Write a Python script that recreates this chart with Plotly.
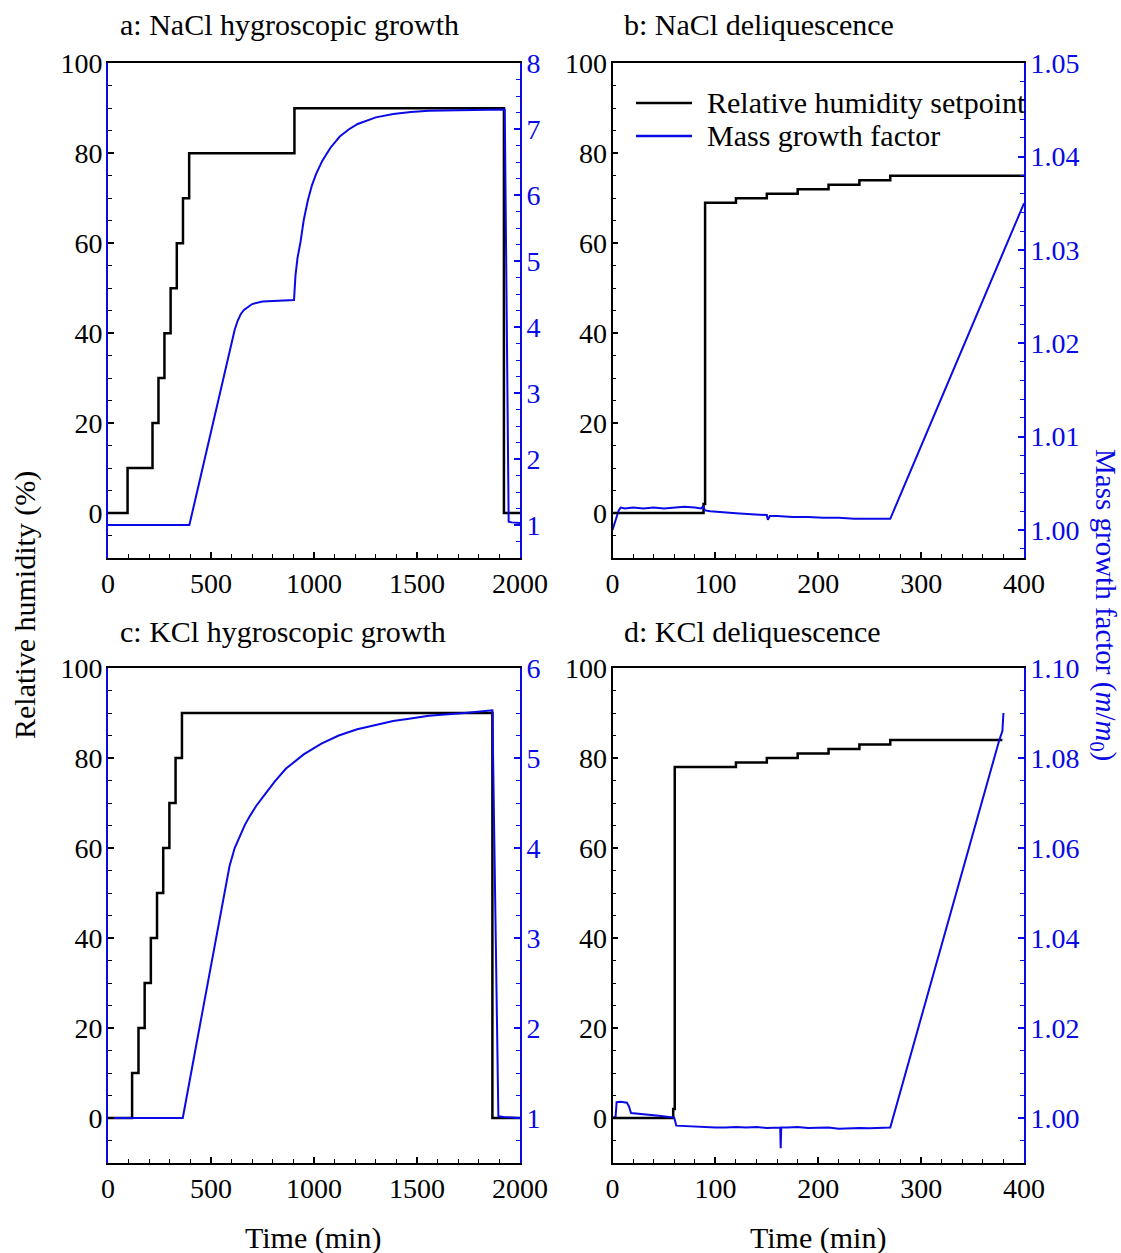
import plotly.graph_objects as go

# ---------------- data ----------------
# Panel a: NaCl hygroscopic growth
a_rh_t = [0, 95, 216, 245, 274, 304, 334, 364, 394, 905, 1922, 2000]
a_rh_v = [0, 10, 20, 30, 40, 50, 60, 70, 80, 90, 0, 0]
a_mg_t = [0, 395, 450, 500, 550, 600, 615, 630, 645, 660, 680, 700, 750, 800, 850, 903,
          910, 920, 935, 950, 970, 990, 1010, 1040, 1080, 1125, 1170, 1212, 1300,
          1385, 1470, 1558, 1700, 1850, 1926, 1945, 1960, 2000]
a_mg_v = [1.0, 1.0, 1.74, 2.42, 3.09, 3.77, 3.96, 4.10, 4.20, 4.26, 4.31, 4.35, 4.39, 4.40, 4.41, 4.41,
          4.78, 5.05, 5.30, 5.62, 5.92, 6.15, 6.32, 6.52, 6.72, 6.89, 7.00, 7.08, 7.18,
          7.23, 7.26, 7.28, 7.29, 7.30, 7.30, 1.05, 1.04, 1.03]

# Panel b: NaCl deliquescence
b_rh_t = [0, 88.5, 90, 120, 150, 180, 210, 240, 270, 400]
b_rh_v = [0, 2, 69, 70, 71, 72, 73, 74, 75, 75]
b_mg_t = [0, 2, 4, 6, 8, 12, 20, 30, 40, 50, 60, 70, 80, 86, 88, 90, 95, 105, 120, 135,
          145, 150, 151, 152, 153, 160, 175, 190, 205, 220, 235, 250, 262, 270, 400]
b_mg_v = [1.0000, 1.0006, 1.0014, 1.0021, 1.0024, 1.0023, 1.0024, 1.0023, 1.0024, 1.0023,
          1.0024, 1.0025, 1.0024, 1.0023, 1.0025, 1.0021, 1.0020, 1.0019, 1.0018, 1.0017,
          1.0016, 1.0016, 1.0011, 1.0013, 1.0015, 1.0015, 1.0014, 1.0014, 1.0013, 1.0013,
          1.0012, 1.0012, 1.0012, 1.0012, 1.0350]

# Panel c: KCl hygroscopic growth
c_rh_t = [0, 117, 148, 178, 208, 238, 268, 298, 328, 359, 1866, 2000]
c_rh_v = [0, 10, 20, 30, 40, 50, 60, 70, 80, 90, 0, 0]
c_mg_t = [0, 363, 430, 520, 590, 615, 640, 665, 690, 720, 760, 810, 863, 910, 950, 1036,
          1120, 1210, 1300, 1384, 1470, 1557, 1731, 1866, 1895, 1920, 2000]
c_mg_v = [1.0, 1.0, 1.83, 2.95, 3.80, 4.00, 4.14, 4.26, 4.36, 4.47, 4.59, 4.74, 4.88, 4.97, 5.04, 5.16,
          5.25, 5.32, 5.37, 5.41, 5.44, 5.47, 5.50, 5.53, 1.02, 1.01, 1.0]

# Panel d: KCl deliquescence
d_rh_t = [0, 59, 60.5, 120, 150, 180, 210, 240, 270, 379]
d_rh_v = [0, 2, 78, 79, 80, 81, 82, 83, 84, 84]
d_mg_t = [0, 3, 4, 8, 14, 16, 18, 25, 35, 45, 55, 59, 60, 62, 70, 80, 90, 100, 110, 120,
          130, 140, 150, 160, 163, 163.5, 164, 170, 180, 190, 200, 210, 220, 230, 240,
          250, 260, 270, 376, 379, 380]
d_mg_v = [1.0, 1.0003, 1.0035, 1.0036, 1.0034, 1.0026, 1.0011, 1.0009, 1.0007, 1.0005,
          1.0003, 1.0002, 1.0001, 0.9983, 0.9982, 0.9981, 0.9981, 0.9979, 0.9979, 0.9980,
          0.9979, 0.9980, 0.9978, 0.9979, 0.9979, 0.9933, 0.9979, 0.9979, 0.9980, 0.9978,
          0.9979, 0.9979, 0.9976, 0.9977, 0.9978, 0.9977, 0.9978, 0.9979, 1.0840, 1.0860,
          1.0900]

titles = ["a: NaCl hygroscopic growth", "b: NaCl deliquescence",
          "c: KCl hygroscopic growth", "d: KCl deliquescence"]
legend_names = ["Relative humidity setpoint", "Mass growth factor"]

# ---------------- style ----------------
W, H = 1121, 1253
FONT = "Liberation Serif"
BLACK = "#000000"
BLUE = "#0a0ae6"
TICK_FS = 28
TEXT_FS = 30

def px_x(p):
    return p / W

def px_y(p):
    return 1 - p / H

col_dom = [[px_x(108), px_x(520)], [px_x(612.5), px_x(1024)]]
row_dom = [[px_y(558), px_y(63.3)], [px_y(1163), px_y(668)]]

fig = go.Figure()

panels = [
    (a_rh_t, a_rh_v, a_mg_t, a_mg_v),
    (b_rh_t, b_rh_v, b_mg_t, b_mg_v),
    (c_rh_t, c_rh_v, c_mg_t, c_mg_v),
    (d_rh_t, d_rh_v, d_mg_t, d_mg_v),
]

xranges = [[0, 2000], [0, 400], [0, 2000], [0, 400]]
xdt = [500, 100, 500, 100]
xminor = [100, 20, 100, 20]
rranges = [[0.5, 8], [0.997, 1.05], [0.5, 6], [0.99, 1.10]]
rdt = [1, 0.01, 1, 0.02]
rminor = [0.25, 0.002, 0.25, 0.005]
rfmt = ["d", ".2f", "d", ".2f"]
left_line = [BLUE, BLACK, BLUE, BLACK]

layout = {}
for i, (rt, rv, mt, mv) in enumerate(panels):
    xn = i + 1
    yl = 2 * i + 1
    yr = 2 * i + 2
    xs = "x" if xn == 1 else f"x{xn}"
    yls = "y" if yl == 1 else f"y{yl}"
    yrs = f"y{yr}"
    fig.add_trace(go.Scatter(x=rt, y=rv, mode="lines", line=dict(color=BLACK, width=2.5, shape="hv"),
                             xaxis=xs, yaxis=yls, showlegend=False, name=legend_names[0]))
    fig.add_trace(go.Scatter(x=mt, y=mv, mode="lines", line=dict(color=BLUE, width=2),
                             xaxis=xs, yaxis=yrs, showlegend=False, name=legend_names[1]))
    r, c = divmod(i, 2)
    xkey = "xaxis" if xn == 1 else f"xaxis{xn}"
    ylkey = "yaxis" if yl == 1 else f"yaxis{yl}"
    yrkey = f"yaxis{yr}"
    layout[xkey] = dict(
        domain=col_dom[c], anchor=yls, range=xranges[i], dtick=xdt[i], tick0=0,
        ticks="inside", ticklen=6, tickwidth=1.5, tickcolor=BLACK,
        minor=dict(dtick=xminor[i], tick0=0, ticks="inside", ticklen=4, tickwidth=1.2, tickcolor=BLACK),
        showline=True, linecolor=BLACK, linewidth=1.8, mirror=True,
        showgrid=False, zeroline=False, automargin=False,
        tickfont=dict(family=FONT, size=TICK_FS, color=BLACK), ticklabelstandoff=-1,
    )
    layout[ylkey] = dict(
        domain=row_dom[r], anchor=xs, range=[-10, 100], dtick=20, tick0=0,
        ticks="inside", ticklen=6, tickwidth=1.5, tickcolor=BLACK,
        minor=dict(dtick=5, tick0=0, ticks="inside", ticklen=4, tickwidth=1.2, tickcolor=BLACK),
        showline=True, linecolor=left_line[i], linewidth=1.8,
        showgrid=False, zeroline=False, automargin=False,
        tickfont=dict(family=FONT, size=TICK_FS, color=BLACK), ticklabelstandoff=-2,
    )
    layout[yrkey] = dict(
        overlaying=yls, side="right", anchor=xs, range=rranges[i], dtick=rdt[i], tick0=1,
        tickformat=rfmt[i],
        ticks="inside", ticklen=6, tickwidth=1.5, tickcolor=BLUE,
        minor=dict(dtick=rminor[i], tick0=1, ticks="inside", ticklen=4, tickwidth=1.2, tickcolor=BLUE),
        showline=True, linecolor=BLUE, linewidth=1.8,
        showgrid=False, zeroline=False, automargin=False,
        tickfont=dict(family=FONT, size=TICK_FS, color=BLUE), ticklabelstandoff=-1,
    )

annotations = []
title_pos = [(118, 25), (622, 25), (118, 631), (622, 631)]
for t, (xp, yp) in zip(titles, title_pos):
    annotations.append(dict(text=t, x=px_x(xp), y=px_y(yp), xref="paper", yref="paper",
                            xanchor="left", yanchor="middle", showarrow=False,
                            font=dict(family=FONT, size=TEXT_FS, color=BLACK)))
for xc in (313, 818):
    annotations.append(dict(text="Time (min)", x=px_x(xc), y=px_y(1238), xref="paper", yref="paper",
                            xanchor="center", yanchor="middle", showarrow=False,
                            font=dict(family=FONT, size=TEXT_FS, color=BLACK)))
annotations.append(dict(text="Relative humidity (%)", x=px_x(25), y=px_y(605), xref="paper", yref="paper",
                        xanchor="center", yanchor="middle", showarrow=False, textangle=-90,
                        font=dict(family=FONT, size=TEXT_FS, color=BLACK)))
annotations.append(dict(text="Mass growth factor (<i>m</i>/<i>m</i><sub>0</sub>)", x=px_x(1104), y=px_y(605),
                        xref="paper", yref="paper", xanchor="center", yanchor="middle", showarrow=False,
                        textangle=90, font=dict(family=FONT, size=29, color=BLUE)))

# manual legend in panel b
shapes = []
leg_y = [103, 136]
leg_col = [BLACK, BLUE]
for name, yy, cc in zip(legend_names, leg_y, leg_col):
    shapes.append(dict(type="line", xref="paper", yref="paper", x0=px_x(636), x1=px_x(692),
                       y0=px_y(yy), y1=px_y(yy), line=dict(color=cc, width=2.5)))
    annotations.append(dict(text=name, x=px_x(705), y=px_y(yy), xref="paper", yref="paper",
                            xanchor="left", yanchor="middle", showarrow=False,
                            font=dict(family=FONT, size=TEXT_FS, color=BLACK)))

fig.update_layout(
    width=W, height=H, autosize=False,
    margin=dict(l=0, r=0, t=0, b=0, pad=0),
    paper_bgcolor="white", plot_bgcolor="white",
    annotations=annotations, shapes=shapes,
    showlegend=False,
    **layout,
)

fig.write_html("out.html", config={"displayModeBar": False},
               post_script="document.body.style.margin='0';")
